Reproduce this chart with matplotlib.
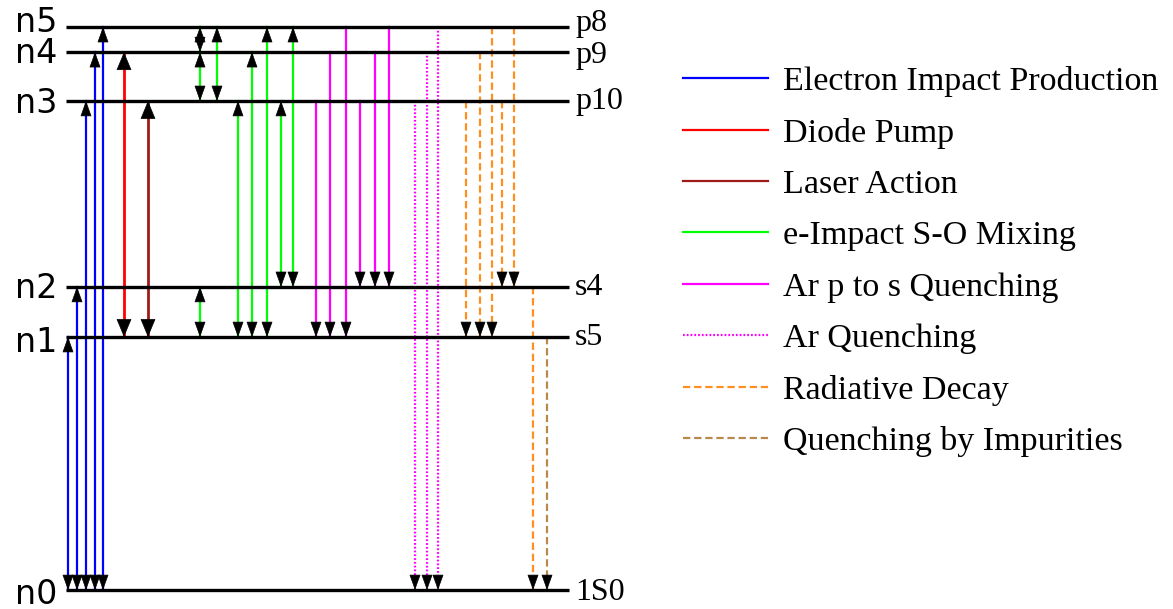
import matplotlib.pyplot as plt
from matplotlib.lines import Line2D

# energy levels (relative units, n1 = 1)
level_names = ['n0', 'n1', 'n2', 'n3', 'n4', 'n5']
state_names = ['1S0', 's5', 's4', 'p10', 'p9', 'p8']
level_energy = [0.0, 1.0, 1.198, 1.933, 2.126, 2.225]

# transitions per process, (from level, to level)
impact_prod = [(0, 1), (0, 2), (0, 3), (0, 4), (0, 5)]
diode_pump = [(1, 4)]
laser_action = [(1, 3)]
so_mixing = [(4, 5), (3, 4), (1, 2), (3, 5), (1, 3), (1, 4), (1, 5), (2, 3), (2, 5)]
ar_p_to_s = [(3, 1), (4, 1), (5, 1), (3, 2), (4, 2), (5, 2)]
ar_quench = [(3, 0), (4, 0), (5, 0)]
rad_decay = [(3, 1), (4, 1), (5, 1), (3, 2), (5, 2), (2, 0)]
impurities = [(1, 0)]

# horizontal slot (pixels) of each arrow
cols_impact = [68, 77, 86, 95, 103]
cols_pump = [124]
cols_laser = [148]
cols_mixing = [200, 200, 200, 217, 238, 252, 267, 281, 293]
cols_p_to_s = [316, 330, 346, 360, 375, 389]
cols_ar = [415, 427, 438]
cols_rad = [466, 480, 492, 502, 514, 533]
cols_imp = [547]

# baseline of each label, pixels below its level line
left_drop = [14, 15, 11, 12, 11, 5]
right_drop = [10, 8, 8, 8, 11, 4]

processes = [
    ('Electron Impact Production', impact_prod, cols_impact, '#0000ff', '-', True, False),
    ('Diode Pump', diode_pump, cols_pump, '#ff0000', '-', True, True),
    ('Laser Action', laser_action, cols_laser, '#a01a1a', '-', True, True),
    ('e-Impact S-O Mixing', so_mixing, cols_mixing, '#00ff00', '-', True, False),
    ('Ar p to s Quenching', ar_p_to_s, cols_p_to_s, '#ff00ff', '-', False, False),
    ('Ar Quenching', ar_quench, cols_ar, '#ff00ff', (0, (0.8, 0.9)), False, False),
    ('Radiative Decay', rad_decay, cols_rad, '#ff9020', (0, (3.3, 1.7)), False, False),
    ('Quenching by Impurities', impurities, cols_imp, '#b8894a', (0, (3.3, 1.7)), False, False),
]


def head(ax, x, y, up, big):
    hl, hw = (12, 5.0) if big else (10, 3.6)
    ax.annotate('', xy=(x, y), xytext=(0, -hl if up else hl), textcoords='offset points',
                arrowprops=dict(arrowstyle='-|>,head_length=%g,head_width=%g' % (hl, hw),
                                mutation_scale=1, fc='k', ec='k', lw=0.5,
                                shrinkA=0, shrinkB=0), zorder=4)


fig = plt.figure(figsize=(11.73, 6.09), dpi=100)
ax = fig.add_axes([0, 0, 1, 1])
ax.set_xlim(0, 1173)
ax.set_ylim(-0.075, 2.332)
ax.axis('off')

ax.hlines(level_energy, 66, 569, color='k', lw=2.4, zorder=3)
for name, e, d in zip(level_names, level_energy, left_drop):
    ax.annotate(name, (57, e), xytext=(0, -d * 0.72), textcoords='offset points',
                ha='right', va='baseline', fontsize=24, family='DejaVu Sans')
for name, e, d in zip(state_names, level_energy, right_drop):
    ax.annotate(name, (575, e), xytext=(0, -d * 0.72), textcoords='offset points',
                ha='left', va='baseline', fontsize=23, family='Liberation Serif')

handles = []
for label, trans, cols, color, ls, both, big in processes:
    lw = 2.0 if big else 1.6
    for (a, b), x in zip(trans, cols):
        ya, yb = level_energy[a], level_energy[b]
        ax.plot([x, x], [ya, yb], color=color, ls=ls, lw=lw, zorder=2)
        head(ax, x, yb, yb > ya, big)
        if both:
            head(ax, x, ya, ya > yb, big)
    handles.append(Line2D([], [], color=color, ls=ls, lw=1.6, label=label))

fig.legend(handles=handles, loc='upper left', bbox_to_anchor=(683 / 1173, 1 - 66 / 609),
           frameon=False, borderpad=0, borderaxespad=0, handlelength=2.5,
           handletextpad=0.45, labelspacing=0.605,
           prop={'family': 'Liberation Serif', 'size': 24.5})

fig.savefig('out.png', dpi=100)
